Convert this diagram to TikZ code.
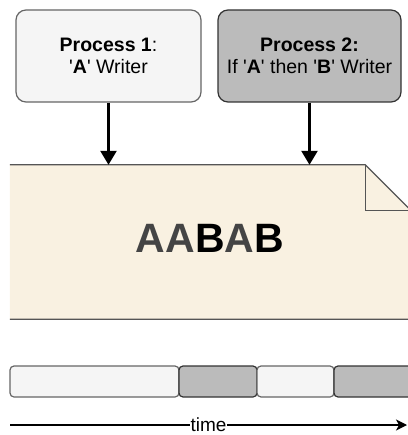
\documentclass[tikz,border=0pt]{standalone}
\usepackage{fontspec}
\setmainfont{Liberation Sans}
\usetikzlibrary{arrows.meta, positioning, calc}
\definecolor{lightfill}{HTML}{F5F5F5}
\definecolor{lightline}{HTML}{666666}
\definecolor{darkfill}{HTML}{BBBBBB}
\definecolor{darkline}{HTML}{333333}
\definecolor{notefill}{HTML}{F9F1E1}
\definecolor{noteline}{HTML}{555555}
\definecolor{letterA}{HTML}{444444}

\begin{document}
\begin{tikzpicture}[x=1pt, y=-1pt,
    proc/.style={rectangle, rounded corners=10pt, line width=1.2pt, minimum height=92pt,
                 align=center, font=\fontsize{19.5}{22}\selectfont, inner sep=0pt},
    seg/.style={rectangle, rounded corners=4pt, line width=1.2pt, minimum height=31pt,
                inner sep=0pt, outer sep=0pt},
    light/.style={fill=lightfill, draw=lightline},
    dark/.style={fill=darkfill, draw=darkline},
    arr/.style={-{Triangle[length=14pt, width=16pt]}, line width=2.5pt},
    tarr/.style={-{Stealth[length=11pt, width=11pt, inset=3pt]}, line width=1.5pt},
]
    \useasboundingbox (0,0) rectangle (407,435);

    \node[proc, light, minimum width=185pt] (p1) at (108.5,56)
        {\textbf{Process 1}:\\\textquotesingle\textbf{A}\textquotesingle{} Writer};
    \node[proc, dark, minimum width=183pt] (p2) at (309.5,56)
        {\textbf{Process 2:}\\If \textquotesingle\textbf{A}\textquotesingle{} then \textquotesingle\textbf{B}\textquotesingle{} Writer};

    \node[minimum width=401pt, minimum height=154pt, inner sep=0pt] (note) at (210.5,242) {};
    \fill[notefill] (note.north west) -- ($(note.north east)+(-46,0)$) -- ($(note.north east)+(0,46)$)
        -- (note.south east) -- (note.south west) -- cycle;
    \draw[noteline, line width=1.2pt] (note.north west) -- ($(note.north east)+(-46,0)$)
        -- ($(note.north east)+(0,46)$) (note.south east) -- (note.south west) -- cycle;
    \draw[noteline, line width=1.2pt] ($(note.north east)+(-46,0)$) -- ($(note.north east)+(-46,46)$)
        -- ($(note.north east)+(0,46)$);
    \node[font=\bfseries\fontsize{41}{41}\selectfont] (data) at (210,238.5)
        {\textcolor{letterA}{AA}B\textcolor{letterA}{A}B};

    \draw[arr] (p1.south) -- (p1.south |- note.north);
    \draw[arr] (p2.south) -- (p2.south |- note.north);

    \node[seg, light, minimum width=169pt] (s1) at (94.5,381.5) {};
    \node[seg, dark, minimum width=78pt, right=0pt of s1] (s2) {};
    \node[seg, light, minimum width=77pt, right=0pt of s2] (s3) {};
    \node[seg, dark, minimum width=80pt, right=0pt of s3] (s4) {};

    \coordinate (t0) at (10,425);
    \coordinate (t1) at (407,425);
    \draw[tarr] (t0) -- node[fill=white, inner sep=1pt, font=\fontsize{19}{22}\selectfont] (tlabel) {time} (t1);
\end{tikzpicture}
\end{document}
